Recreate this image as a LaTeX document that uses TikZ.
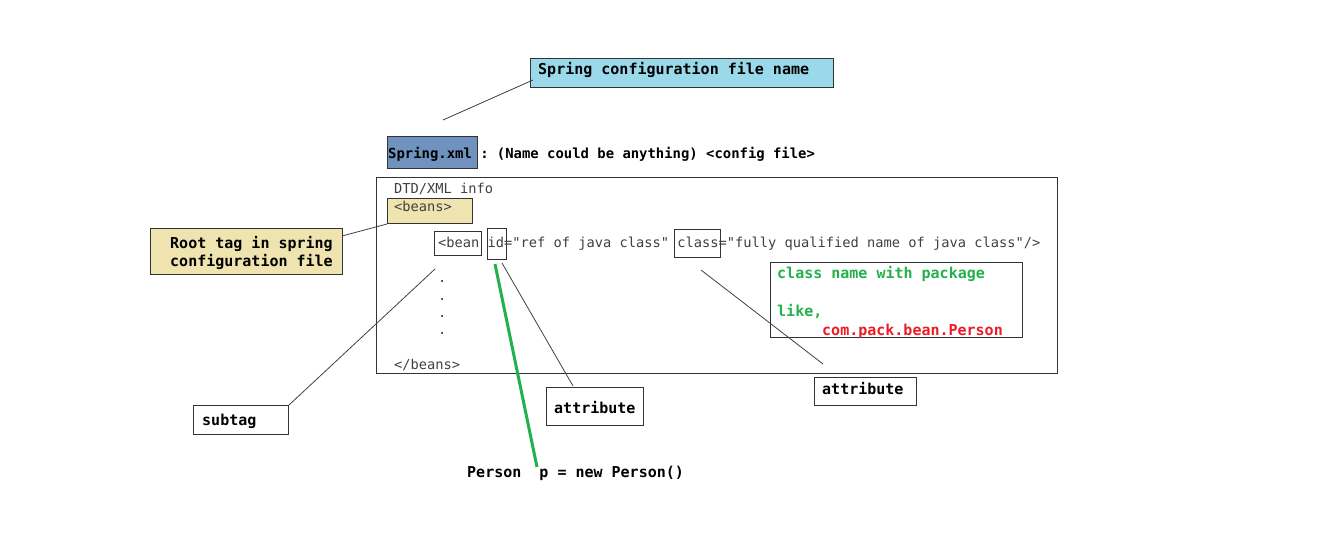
\documentclass[tikz,border=0pt]{standalone}
\usepackage{fontspec}
\setmonofont{DejaVu Sans Mono}
\definecolor{cyanbox}{HTML}{99D9EA}
\definecolor{bluebox}{HTML}{7092BE}
\definecolor{tanbox}{HTML}{EFE4B0}
\definecolor{pgreen}{HTML}{22B14C}
\definecolor{pred}{HTML}{ED1C24}
\definecolor{txtgray}{HTML}{404040}
\tikzset{
  box/.style={draw=black!80, line width=1pt, inner sep=0pt, anchor=north west},
  lbl/.style={font=\ttfamily\bfseries\fontsize{15}{18}\selectfont, anchor=base west, inner sep=0pt},
  hdr/.style={font=\ttfamily\bfseries\fontsize{13.9}{16}\selectfont, anchor=base west, inner sep=0pt},
  code/.style={font=\ttfamily\fontsize{13.7}{16}\selectfont, text=txtgray, anchor=base west, inner sep=0pt},
  conn/.style={draw=black!75, line width=0.8pt},
  idline/.style={draw=pgreen, line width=3pt},
}
\begin{document}
\begin{tikzpicture}[x=1pt,y=-1pt]
\useasboundingbox (0,0) rectangle (1339,552);
% boxes
\node[box, fill=cyanbox, minimum width=303pt, minimum height=29pt] (topbox) at (530,58) {};
\node[box, fill=bluebox, minimum width=90pt, minimum height=32pt] (xmlbox) at (387,136) {};
\node[box, minimum width=681pt, minimum height=196pt] (mainbox) at (376,177) {};
\node[box, fill=tanbox, minimum width=85pt, minimum height=25pt] (beansbox) at (387,198) {};
\node[box, fill=tanbox, minimum width=192pt, minimum height=46pt] (rootbox) at (150,228) {};
\node[box, minimum width=47pt, minimum height=24pt] (beanbox) at (434,231) {};
\node[box, minimum width=19pt, minimum height=31pt] (idbox) at (487,228) {};
\node[box, minimum width=46pt, minimum height=28pt] (classbox) at (674,229) {};
\node[box, minimum width=252pt, minimum height=75pt] (greenbox) at (770,262) {};
\node[box, minimum width=97pt, minimum height=38pt] (attrA) at (546,387) {};
\node[box, minimum width=102pt, minimum height=28pt] (attrB) at (814,377) {};
\node[box, minimum width=95pt, minimum height=29pt] (subtag) at (193,405) {};
% texts
\node[lbl] (ttop) at (538,74) {Spring configuration file name};
\node[hdr] (txml) at (388,158) {Spring.xml : (Name could be anything) <config file>};
\node[code] (tdtd) at (394,193) {DTD/XML info};
\node[code] (tbeans) at (394,211) {<beans>};
\node[lbl] (troot1) at (170,248) {Root tag in spring};
\node[lbl] (troot2) at (170,266) {configuration file};
\node[code] (tbean) at (438,247) {<bean id="ref of java class" class="fully qualified name of java class"/>};
\node[code] (d1) at (438,282) {.};
\node[code] (d2) at (438,300) {.};
\node[code] (d3) at (438,317) {.};
\node[code] (d4) at (438,334) {.};
\node[code] (tendbeans) at (394,369) {</beans>};
\node[lbl, text=pgreen] (tg1) at (777,278) {class name with package};
\node[lbl, text=pgreen] (tg2) at (777,316) {like,};
\node[lbl, text=pred] (tg3) at (822,335) {com.pack.bean.Person};
\node[lbl] (tattrA) at (554,413) {attribute};
\node[lbl] (tattrB) at (822,394) {attribute};
\node[lbl] (tsub) at (202,425) {subtag};
\node[lbl] (tperson) at (467,477) {Person\ \ p = new Person()};
% connector ends
\coordinate (xmlend) at (443,120);
\coordinate (topend) at (533,80);
\coordinate (rootend) at (342,236);
\coordinate (beanend) at (435,269);
\coordinate (idgreen) at (495,264);
\coordinate (pend) at (537,467);
\coordinate (idend) at (502,263);
\coordinate (attrAend) at (573,386);
\coordinate (classend) at (701,270);
\coordinate (attrBend) at (823,364);
% connectors
\draw[conn] (xmlend) -- (topend);
\draw[conn] (rootend) -- (beansbox.south west);
\draw[conn] (beanend) -- (subtag.north east);
\draw[conn] (idend) -- (attrAend);
\draw[conn] (classend) -- (attrBend);
\draw[idline] (idgreen) -- (pend);
\end{tikzpicture}
\end{document}
